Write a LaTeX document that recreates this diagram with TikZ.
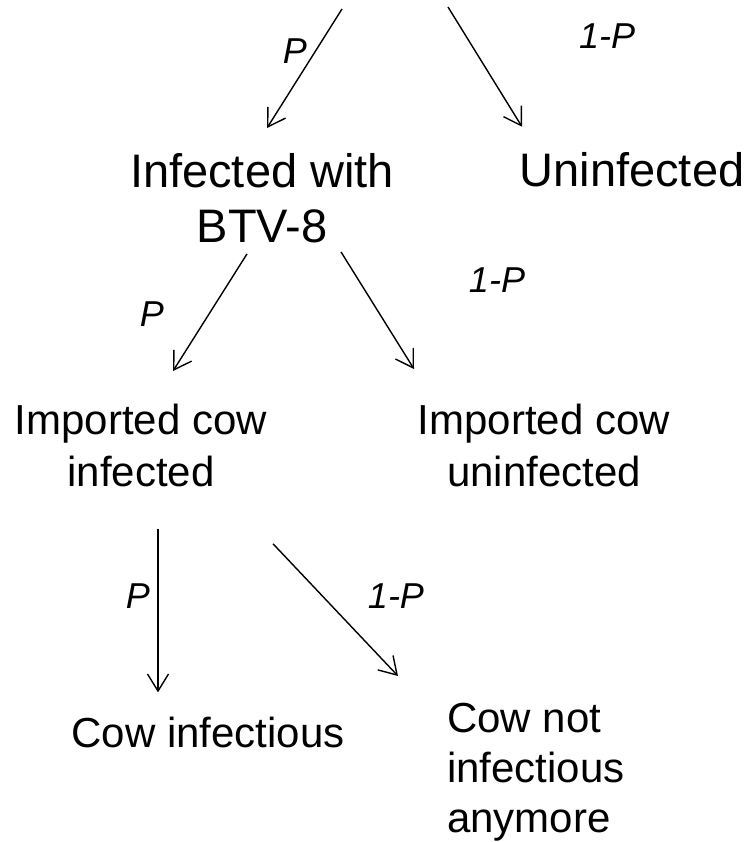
\documentclass[tikz,border=0pt]{standalone}
\usepackage{fontspec}
\setmainfont{Liberation Sans}
\usetikzlibrary{arrows.meta}

\begin{document}
\begin{tikzpicture}[
    x=1pt, y=-1pt,
    big/.style={font=\fontsize{47}{55}\selectfont, inner sep=0pt, align=center},
    outcome/.style={font=\fontsize{42}{51.5}\selectfont, inner sep=0pt, align=center},
    prob/.style={font=\fontsize{36}{43}\selectfont\itshape, inner sep=0pt, anchor=base},
    arr/.style={-{Straight Barb[length=17pt,width=21pt]}, line width=1.4pt}
]
\useasboundingbox (0,0) rectangle (748,842);

\coordinate (srcl) at (342,9);
\coordinate (srcr) at (448,7);

\node[big, anchor=north] (infected) at (262,153) {Infected with\\BTV-8};
\node[big, anchor=base] (uninfected) at (632,187) {Uninfected};

\node[outcome, anchor=north] (impinfected) at (141,404) {Imported cow\\infected};
\node[outcome, anchor=north] (impuninfected) at (544,404) {Imported cow\\uninfected};

\node[outcome, anchor=base] (infectious) at (208,747) {Cow infectious};
\node[outcome, anchor=north west, align=left, font=\fontsize{42}{50}\selectfont] (notinfectious) at (447,703) {Cow not\\infectious\\anymore};

\node[prob] (p1) at (295,64) {P};
\node[prob] (q1) at (607,49) {1-P};
\node[prob] (p2) at (152,326) {P};
\node[prob] (q2) at (497,292) {1-P};
\node[prob] (p3) at (138,608) {P};
\node[prob] (q3) at (396,608) {1-P};

\draw[arr] (srcl) -- ([shift={(5,-25)}]infected.north);
\draw[arr] (srcr) -- ([shift={(-110,-26)}]uninfected.north);
\draw[arr] ([shift={(-15,11)}]infected.south) -- ([shift={(32,-33)}]impinfected.north);
\draw[arr] ([shift={(79,9)}]infected.south) -- ([shift={(-130,-35)}]impuninfected.north);
\draw[arr] ([shift={(17,42)}]impinfected.south) -- ([shift={(-50,-24)}]infectious.north);
\draw[arr] ([shift={(132,57)}]impinfected.south) -- ([shift={(-49,-27)}]notinfectious.north west);
\end{tikzpicture}
\end{document}
